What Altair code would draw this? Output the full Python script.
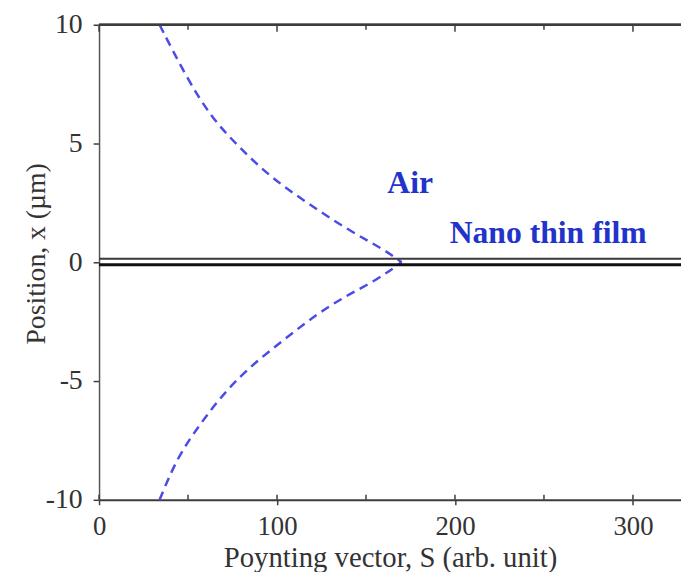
import altair as alt
import pandas as pd

# ---- data ----
upper_S = [34, 49, 63, 78, 96, 117, 139, 161, 170]
upper_pos = [10, 7.8, 6.1, 4.9, 3.6, 2.5, 1.4, 0.5, 0.0]
lower_S = [34, 44, 56, 68, 83, 104, 122, 139, 156, 170]
lower_pos = [-10, -8.2, -6.9, -5.7, -4.5, -3.25, -2.2, -1.4, -0.75, 0.0]

film_pos = [0.15, -0.1]
film_width = [2.2, 3.0]
film_color = ["#3a3a3a", "#111111"]

x_major = [0, 100, 200, 300]
x_minor = [50, 150, 250]
y_major = [-10, -5, 0, 5, 10]

label_text = ["Air", "Nano thin film"]
label_S = [162, 197]
label_pos = [2.9, 0.8]

X_DOMAIN = [0, 327]
Y_DOMAIN = [-10, 10]
W, H = 588, 480
SERIF = "Liberation Serif"
AXIS_COLOR = "#3c3c3c"
TEXT_COLOR = "#333333"

curve_df = pd.DataFrame(
    {
        "S": upper_S + lower_S,
        "pos": upper_pos + lower_pos,
        "branch": ["upper"] * len(upper_S) + ["lower"] * len(lower_S),
    }
)
film_df = pd.DataFrame(
    {
        "pos": film_pos,
        "w": film_width,
        "c": film_color,
        "s0": [X_DOMAIN[0]] * len(film_pos),
        "s1": [X_DOMAIN[1]] * len(film_pos),
    }
)
major_df = pd.DataFrame({"S": x_major})
minor_df = pd.DataFrame({"S": x_minor})
label_df = pd.DataFrame({"t": label_text, "S": label_S, "pos": label_pos})

xs = alt.Scale(domain=X_DOMAIN, nice=False, zero=False)
ys = alt.Scale(domain=Y_DOMAIN, nice=False, zero=False)

x_axis = alt.Axis(
    orient="bottom",
    values=x_major,
    tickSize=5,
    tickWidth=1.5,
    tickColor=AXIS_COLOR,
    domainColor=AXIS_COLOR,
    domainWidth=2,
    labelFont=SERIF,
    labelFontSize=27,
    labelColor=TEXT_COLOR,
    labelPadding=9,
    labelFlush=False,
    grid=False,
    title="Poynting vector, S (arb. unit)",
    titleFont=SERIF,
    titleFontSize=29,
    titleFontWeight="normal",
    titleColor=TEXT_COLOR,
    titleBaseline="alphabetic",
    titleY=67,
)
y_axis = alt.Axis(
    orient="left",
    values=y_major,
    tickSize=6,
    tickWidth=1.5,
    tickColor=AXIS_COLOR,
    domainColor="#555555",
    domainWidth=1.5,
    labelFont=SERIF,
    labelFontSize=28,
    labelColor=TEXT_COLOR,
    labelPadding=11,
    labelExpr="'' + datum.value",
    grid=False,
    title="Position, x (µm)",
    titleFont=SERIF,
    titleFontSize=28,
    titleFontWeight="normal",
    titleColor=TEXT_COLOR,
    titleAngle=270,
    titleAlign="center",
    titleBaseline="middle",
    titleX=-63,
    titleY=231,
)

curve = (
    alt.Chart(curve_df)
    .mark_line(
        color="#4b4be6",
        strokeWidth=2.5,
        strokeDash=[9, 6],
        interpolate="basis",
    )
    .encode(
        x=alt.X("S:Q", scale=xs, axis=x_axis),
        y=alt.Y("pos:Q", scale=ys, axis=y_axis),
        detail="branch:N",
    )
)

film = (
    alt.Chart(film_df)
    .mark_rule()
    .encode(
        x=alt.X("s0:Q", scale=xs),
        x2="s1:Q",
        y=alt.Y("pos:Q", scale=ys),
        strokeWidth=alt.StrokeWidth("w:Q", scale=None),
        color=alt.Color("c:N", scale=None),
    )
)

top_line = (
    alt.Chart(major_df)
    .mark_rule(color=AXIS_COLOR, strokeWidth=2)
    .encode(x=alt.value(0), x2=alt.value(W), y=alt.value(0))
)

top_major = (
    alt.Chart(major_df)
    .mark_rule(color=AXIS_COLOR, strokeWidth=1.5)
    .encode(x=alt.X("S:Q", scale=xs), y=alt.value(0), y2=alt.value(7))
)
top_minor = (
    alt.Chart(minor_df)
    .mark_rule(color=AXIS_COLOR, strokeWidth=1.5)
    .encode(x=alt.X("S:Q", scale=xs), y=alt.value(0), y2=alt.value(5))
)
bot_major = (
    alt.Chart(major_df)
    .mark_rule(color=AXIS_COLOR, strokeWidth=1.5)
    .encode(x=alt.X("S:Q", scale=xs), y=alt.value(H), y2=alt.value(H - 5))
)
bot_minor = (
    alt.Chart(minor_df)
    .mark_rule(color=AXIS_COLOR, strokeWidth=1.5)
    .encode(x=alt.X("S:Q", scale=xs), y=alt.value(H), y2=alt.value(H - 5))
)

labels = (
    alt.Chart(label_df)
    .mark_text(
        font=SERIF,
        fontWeight="bold",
        fontSize=32,
        color="#2233cc",
        align="left",
        baseline="alphabetic",
    )
    .encode(
        x=alt.X("S:Q", scale=xs),
        y=alt.Y("pos:Q", scale=ys),
        text="t:N",
    )
)

chart = (
    alt.layer(curve, film, top_line, top_major, top_minor, bot_major, bot_minor, labels)
    .properties(
        width=W,
        height=H,
        autosize=alt.AutoSizeParams(type="none"),
        padding={"left": 92, "top": 14, "right": 0, "bottom": 70},
        background="white",
    )
    .configure_view(strokeWidth=0)
)

chart.save("out.html", embed_options={"renderer": "svg", "actions": False})
